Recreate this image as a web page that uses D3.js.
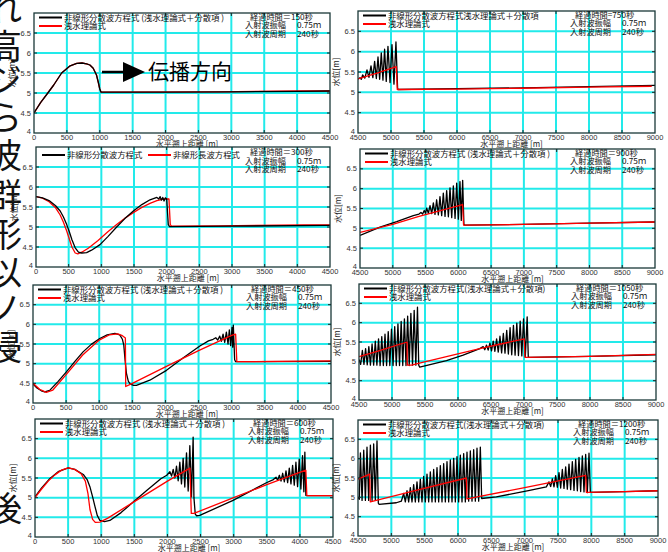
<!DOCTYPE html>
<html>
<head>
<meta charset="utf-8">
<script src="https://cdn.jsdelivr.net/npm/d3@7"></script>
<style>
  body { margin: 0; background: #fff; }
  svg { display: block; }
</style>
</head>
<body>
<div id="chart"></div>
<script>
// ---- data: [distance m, water level m] ----
const times = [150, 300, 450, 600, 750, 900, 1050, 1200];
const yTicks = [4, 4.5, 5, 5.5, 6, 6.5];
const xTicksLeft = [0, 500, 1000, 1500, 2000, 2500, 3000, 3500, 4000, 4500];
const xTicksRight = [4500, 5000, 5500, 6000, 6500, 7000, 7500, 8000, 8500, 9000];
const waveAmp = "0.75ｍ";
const wavePeriod = "240秒";

const black150 = [[0,4.5],[100,4.76],[210,5.0],[300,5.2],[420,5.5],[550,5.68],[650,5.74],[730,5.75],[800,5.73],[850,5.7],[900,5.62],[950,5.45],[980,5.25],[1000,5.1],[1020,5.02],[2000,5.02],[3000,5.03],[4000,5.04],[4500,5.05]];
const red150 = [[0,4.5],[100,4.76],[210,5.0],[300,5.2],[420,5.5],[550,5.68],[650,5.74],[730,5.75],[800,5.73],[850,5.7],[900,5.62],[950,5.45],[980,5.25],[1000,5.1],[1020,5.02],[2800,5.03],[4050,5.05],[4500,5.05]];

const black300 = [[0,5.76],[100,5.73],[200,5.66],[300,5.53],[370,5.4],[420,5.25],[470,5.06],[510,4.88],[550,4.68],[600,4.48],[650,4.37],[700,4.35],[775,4.36],[850,4.42],[980,4.56],[1100,4.76],[1235,5.0],[1360,5.21],[1490,5.4],[1620,5.56],[1745,5.68],[1850,5.74],[1880,5.7],[1900,5.76],[1920,5.67],[1940,5.74],[1960,5.65],[1980,5.73],[2000,5.7],[2025,5.06],[2045,5.01],[3000,5.02],[4500,5.04]];
const red300 = [[0,5.76],[100,5.72],[200,5.63],[300,5.48],[370,5.3],[420,5.12],[470,4.9],[510,4.7],[550,4.5],[600,4.35],[640,4.33],[700,4.37],[800,4.47],[950,4.66],[1100,4.88],[1235,5.06],[1360,5.22],[1490,5.36],[1620,5.49],[1745,5.59],[1850,5.66],[1950,5.7],[2035,5.7],[2055,5.06],[2075,5.02],[2800,5.03],[4100,5.05],[4500,5.05]];

const black450 = [[0,4.48],[60,4.38],[126,4.31],[177,4.28],[252,4.32],[380,4.55],[504,4.79],[630,5.05],[756,5.3],[880,5.49],[1008,5.64],[1120,5.73],[1236,5.77],[1310,5.73],[1350,5.62],[1371,5.47],[1390,5.1],[1411,4.75],[1440,4.55],[1470,4.48],[1520,4.45],[1562,4.45],[1764,4.58],[2016,4.83],[2270,5.15],[2520,5.45],[2650,5.58],[2720,5.62],[2760,5.66],[2790,5.6],[2820,5.7],[2845,5.57],[2870,5.75],[2895,5.54],[2920,5.8],[2945,5.5],[2965,5.86],[2985,5.46],[3005,5.92],[3015,5.42],[3025,5.98],[3045,5.1],[3060,5.05],[4500,5.06]];
const red450 = [[0,4.5],[100,4.35],[200,4.27],[300,4.33],[500,4.72],[750,5.22],[1000,5.6],[1150,5.73],[1280,5.76],[1340,5.72],[1395,5.65],[1400,4.42],[1500,4.5],[2000,4.92],[2500,5.33],[3000,5.72],[3060,5.75],[3078,5.05],[4500,5.07]];

const black600 = [[0,5.02],[100,5.25],[226,5.49],[350,5.66],[503,5.76],[600,5.72],[729,5.59],[790,5.45],[829,5.28],[870,5.02],[905,4.78],[940,4.55],[980,4.42],[1050,4.39],[1131,4.42],[1300,4.62],[1483,4.89],[1700,5.2],[1900,5.48],[1990,5.57],[2037,5.66],[2062,5.55],[2087,5.72],[2112,5.5],[2137,5.8],[2162,5.43],[2187,5.9],[2212,5.35],[2237,6.0],[2262,5.27],[2288,6.14],[2313,5.17],[2338,6.32],[2363,5.02],[2388,6.54],[2400,5.0],[2420,4.58],[2440,4.54],[2488,4.55],[2991,4.93],[3494,5.38],[3600,5.46],[3640,5.52],[3665,5.44],[3690,5.57],[3715,5.42],[3740,5.62],[3765,5.4],[3790,5.68],[3815,5.38],[3840,5.75],[3865,5.35],[3890,5.82],[3915,5.32],[3940,5.9],[3965,5.28],[3990,5.98],[4015,5.22],[4040,6.07],[4060,5.15],[4075,6.16],[4090,5.06],[4110,5.05],[4500,5.05]];
const red600 = [[0,5.0],[100,5.22],[200,5.42],[300,5.58],[400,5.7],[500,5.76],[600,5.72],[700,5.6],[760,5.42],[800,5.1],[830,4.7],[870,4.45],[910,4.37],[980,4.38],[1100,4.48],[1500,4.9],[2000,5.42],[2340,5.75],[2360,4.6],[2400,4.6],[3000,5.0],[3500,5.33],[4090,5.7],[4105,5.05],[4500,5.05]];

const black750 = [[4500,5.33],[4530,5.36],[4550,5.32],[4570,5.43],[4603,5.35],[4636,5.55],[4666,5.37],[4697,5.65],[4725,5.36],[4752,5.76],[4778,5.34],[4803,5.87],[4828,5.32],[4853,5.97],[4878,5.3],[4903,6.06],[4928,5.27],[4954,6.13],[4985,5.24],[5015,6.17],[5045,5.2],[5075,6.24],[5100,5.1],[5110,5.07],[6000,5.09],[7000,5.11],[8000,5.14],[9000,5.17]];
const red750 = [[4500,5.33],[4800,5.48],[5080,5.63],[5095,5.07],[6000,5.08],[7000,5.1],[8000,5.13],[8950,5.15]];

const black900 = [[4500,4.82],[4805,5.03],[5060,5.17],[5313,5.32],[5400,5.36],[5430,5.4],[5455,5.36],[5480,5.45],[5500,5.38],[5517,5.51],[5543,5.38],[5568,5.57],[5594,5.37],[5619,5.64],[5644,5.35],[5669,5.72],[5695,5.34],[5720,5.8],[5746,5.32],[5771,5.89],[5797,5.3],[5822,5.95],[5848,5.29],[5873,6.02],[5899,5.27],[5924,6.07],[5950,5.25],[5975,6.14],[6000,5.23],[6025,6.18],[6045,5.2],[6066,6.21],[6085,5.1],[6100,5.08],[7000,5.1],[8000,5.13],[9000,5.16]];
const red900 = [[4500,4.9],[5000,5.1],[5400,5.3],[6066,5.6],[6080,5.08],[7000,5.1],[8000,5.13],[9000,5.16]];

const black1050 = [[4500,5.05],[4525,4.92],[4551,5.28],[4575,4.92],[4600,5.33],[4625,4.91],[4649,5.38],[4673,4.9],[4698,5.45],[4722,4.9],[4747,5.52],[4771,4.9],[4796,5.58],[4820,4.89],[4845,5.64],[4869,4.89],[4894,5.7],[4918,4.89],[4943,5.77],[4967,4.89],[4992,5.83],[5016,4.89],[5041,5.9],[5065,4.89],[5090,5.97],[5114,4.89],[5139,6.03],[5163,4.89],[5188,6.1],[5212,4.89],[5237,6.17],[5261,4.89],[5286,6.24],[5311,4.9],[5336,6.32],[5361,4.9],[5386,6.4],[5405,4.9],[5420,4.85],[5825,5.02],[6078,5.16],[6330,5.33],[6381,5.38],[6406,5.3],[6432,5.42],[6457,5.29],[6483,5.47],[6508,5.27],[6534,5.52],[6559,5.26],[6585,5.58],[6610,5.24],[6636,5.65],[6661,5.22],[6687,5.72],[6712,5.21],[6738,5.8],[6763,5.19],[6789,5.87],[6814,5.17],[6840,5.93],[6865,5.16],[6891,5.99],[6916,5.15],[6942,6.04],[6967,5.14],[6993,6.1],[7020,5.12],[7048,6.15],[7065,5.12],[7075,5.1],[8000,5.13],[9000,5.17]];
const red1050 = [[4500,5.12],[4800,5.27],[5228,5.5],[5232,4.9],[5300,4.9],[5400,4.95],[5825,5.12],[6330,5.33],[7003,5.58],[7015,5.1],[8000,5.13],[9000,5.18]];

const black1200 = [[4500,5.0],[4520,4.95],[4536,6.15],[4561,4.92],[4586,6.22],[4611,4.92],[4635,6.3],[4660,4.92],[4686,6.35],[4711,4.92],[4735,6.38],[4760,4.92],[4785,6.46],[4805,4.85],[4815,4.82],[5075,4.86],[5150,4.9],[5185,5.1],[5210,4.88],[5235,5.17],[5260,4.88],[5285,5.25],[5310,4.88],[5335,5.33],[5360,4.88],[5385,5.4],[5410,4.88],[5435,5.47],[5460,4.88],[5485,5.54],[5510,4.88],[5535,5.6],[5560,4.88],[5585,5.66],[5610,4.88],[5635,5.72],[5660,4.88],[5685,5.77],[5710,4.88],[5735,5.82],[5760,4.88],[5785,5.87],[5810,4.88],[5835,5.92],[5860,4.88],[5885,5.97],[5910,4.88],[5935,6.01],[5960,4.88],[5985,6.05],[6010,4.88],[6035,6.09],[6060,4.88],[6085,6.13],[6110,4.88],[6135,6.17],[6160,4.9],[6185,6.2],[6210,4.9],[6235,6.23],[6260,4.9],[6285,6.27],[6310,4.9],[6335,6.3],[6355,4.97],[6575,5.01],[7075,5.18],[7325,5.27],[7365,5.4],[7390,5.28],[7415,5.48],[7440,5.27],[7465,5.56],[7490,5.26],[7515,5.64],[7540,5.24],[7565,5.72],[7590,5.23],[7615,5.79],[7640,5.21],[7665,5.86],[7690,5.2],[7715,5.92],[7740,5.18],[7765,5.98],[7790,5.17],[7815,6.03],[7840,5.15],[7865,6.07],[7890,5.14],[7915,6.11],[7940,5.12],[7965,6.14],[7985,5.13],[8500,5.15],[9000,5.17]];
const red1200 = [[4500,5.47],[4675,5.6],[4685,4.88],[5400,5.19],[6125,5.5],[6135,4.96],[7000,5.25],[7915,5.57],[7925,5.13],[8500,5.15],[9000,5.17]];

const legendFull = ["非線形分散波方程式 (浅水理論式＋分散項 )", "浅水理論式"];
const legendTight = ["非線形分散波方程式(浅水理論式＋分散項)", "浅水理論式"];
const legend750 = ["非線形分散波方程式浅水理論式＋分散項", "浅水理論式"];
const legend300 = ["非線形分散波方程式", "非線形長波方程式"];

// ---- layout ----
const W = 668, H = 552;
const jp = "'Noto Sans CJK JP', 'Noto Sans', sans-serif";
const num = "'Liberation Sans', Arial, sans-serif";

const panels = [
  {x0:34, x1:330, yb:133, yt:13,  dom:[0,4500],    ticks:xTicksLeft,  black:black150,  red:red150,  legend:legendFull,  t:times[0], eq:"＝", redTop:false},
  {x0:36, x1:330, yb:267, yt:147, dom:[0,4500],    ticks:xTicksLeft,  black:black300,  red:red300,  legend:legend300,   t:times[1], eq:"＝", redTop:false, oneRow:true},
  {x0:33, x1:331, yb:403, yt:285, dom:[0,4500],    ticks:xTicksLeft,  black:black450,  red:red450,  legend:legendFull,  t:times[2], eq:"＝", redTop:true},
  {x0:35, x1:333, yb:537, yt:419, dom:[0,4500],    ticks:xTicksLeft,  black:black600,  red:red600,  legend:legendFull,  t:times[3], eq:"＝", redTop:true},
  {x0:358, x1:655, yb:133, yt:11, dom:[4500,9000], ticks:xTicksRight, black:black750,  red:red750,  legend:legend750,   t:times[4], eq:"=",  redTop:true},
  {x0:360, x1:655, yb:268, yt:149, dom:[4500,9000], ticks:xTicksRight, black:black900,  red:red900,  legend:legendFull,  t:times[5], eq:"＝", redTop:true},
  {x0:359, x1:656, yb:400, yt:284, dom:[4500,9000], ticks:xTicksRight, black:black1050, red:red1050, legend:legendTight, t:times[6], eq:"＝", redTop:true},
  {x0:358, x1:658, yb:536, yt:420, dom:[4500,9000], ticks:xTicksRight, black:black1200, red:red1200, legend:legendTight, t:times[7], eq:"＝", redTop:true}
];

const svg = d3.select("#chart").append("svg")
    .attr("width", W)
    .attr("height", H);

svg.append("rect").attr("width", W).attr("height", H).attr("fill", "#fff");

// big vertical slide text, cut off at the left edge
const sideChars = ["れ","高","ジ","ら","波","群","形","以","ノ","浸","後"];
const sideY = [6, 44, 78, 115, 153, 193, 232, 270, 306, 345, 506];
sideChars.forEach((c, i) => {
  svg.append("text")
      .attr("x", 22).attr("y", sideY[i])
      .attr("text-anchor", "end")
      .attr("dominant-baseline", "central")
      .style("font-family", jp).style("font-size", "34px")
      .attr("fill", "#111")
      .text(c);
});

panels.forEach((p, i) => {
  const x = d3.scaleLinear().domain(p.dom).range([p.x0, p.x1]);
  const y = d3.scaleLinear().domain([4, 7]).range([p.yb, p.yt]);
  const g = svg.append("g");

  g.append("rect")
      .attr("x", p.x0).attr("y", p.yt)
      .attr("width", p.x1 - p.x0).attr("height", p.yb - p.yt)
      .attr("fill", "#fff");

  // grid
  g.selectAll(".gx").data(p.ticks.slice(1, -1)).enter().append("line")
      .attr("x1", d => x(d)).attr("x2", d => x(d))
      .attr("y1", p.yt).attr("y2", p.yb)
      .attr("stroke", "#22eaea").attr("stroke-width", 2);
  g.selectAll(".gy").data(yTicks.slice(1)).enter().append("line")
      .attr("x1", p.x0).attr("x2", p.x1)
      .attr("y1", d => y(d)).attr("y2", d => y(d))
      .attr("stroke", "#22eaea").attr("stroke-width", 2);

  // curves
  const clipId = "clip" + i;
  g.append("clipPath").attr("id", clipId).append("rect")
      .attr("x", p.x0).attr("y", p.yt)
      .attr("width", p.x1 - p.x0).attr("height", p.yb - p.yt);
  const line = d3.line().x(d => x(d[0])).y(d => y(d[1]));
  const series = p.redTop
      ? [[p.black, "#000"], [p.red, "#f00"]]
      : [[p.red, "#f00"], [p.black, "#000"]];
  series.forEach(([data, col]) => {
    g.append("path")
        .datum(data)
        .attr("clip-path", `url(#${clipId})`)
        .attr("fill", "none")
        .attr("stroke", col)
        .attr("stroke-width", 1.3)
        .attr("stroke-linejoin", "round")
        .attr("d", line);
  });

  // frame + inner ticks
  g.append("rect")
      .attr("x", p.x0).attr("y", p.yt)
      .attr("width", p.x1 - p.x0).attr("height", p.yb - p.yt)
      .attr("fill", "none").attr("stroke", "#1a3838").attr("stroke-width", 1.3);
  yTicks.slice(1).forEach(v => {
    g.append("line").attr("x1", p.x0).attr("x2", p.x0 + 3).attr("y1", y(v)).attr("y2", y(v)).attr("stroke", "#222");
    g.append("line").attr("x1", p.x1 - 3).attr("x2", p.x1).attr("y1", y(v)).attr("y2", y(v)).attr("stroke", "#222");
  });
  p.ticks.slice(1, -1).forEach(v => {
    g.append("line").attr("x1", x(v)).attr("x2", x(v)).attr("y1", p.yb - 3).attr("y2", p.yb).attr("stroke", "#222");
    g.append("line").attr("x1", x(v)).attr("x2", x(v)).attr("y1", p.yt).attr("y2", p.yt + 3).attr("stroke", "#222");
  });

  // tick labels (the bottom "4" sits a little higher, clear of the first x label)
  g.selectAll(".yl").data(yTicks).enter().append("text")
      .attr("x", p.x0 - 3).attr("y", d => y(d) + (d === 4 ? 0.5 : 2.5))
      .attr("text-anchor", "end")
      .style("font-family", num).style("font-size", "7.5px").attr("fill", "#333")
      .text(d => d);
  g.selectAll(".xl").data(p.ticks).enter().append("text")
      .attr("x", d => x(d)).attr("y", p.yb + 7)
      .attr("text-anchor", "middle")
      .style("font-family", num).style("font-size", "7.5px").attr("fill", "#333")
      .text(d => d);

  // axis titles
  g.append("text")
      .attr("x", (p.x0 + p.x1) / 2 + 5).attr("y", p.yb + 14)
      .attr("text-anchor", "middle")
      .style("font-family", jp).style("font-size", "8px").attr("fill", "#222")
      .text("水平遡上距離 [m]");
  g.append("text")
      .attr("transform", `translate(${p.x0 - 19},${(p.yt + p.yb) / 2}) rotate(-90)`)
      .attr("text-anchor", "middle")
      .style("font-family", jp).style("font-size", "8px").attr("fill", "#222")
      .text("水位[m]");

  // legend
  const lg = [[p.legend[0], "#000"], [p.legend[1], "#f00"]];
  lg.forEach(([txt, col], k) => {
    const lx = p.oneRow ? p.x0 + 6 + k * 106 : p.x0 + 5;
    const ly = p.oneRow ? p.yt + 8 : p.yt + 4.5 + k * 8.5;
    g.append("line")
        .attr("x1", lx).attr("x2", lx + 23)
        .attr("y1", ly).attr("y2", ly)
        .attr("stroke", col).attr("stroke-width", 2);
    g.append("text")
        .attr("x", lx + 25).attr("y", ly + 3)
        .style("font-family", jp).style("font-size", "8.4px").attr("fill", "#111")
        .text(txt);
  });

  // run info
  const ix = p.x1 - 80;
  const iy = p.yt + (p.oneRow ? 8 : 6.5);
  g.append("text").attr("x", ix).attr("y", iy)
      .style("font-family", jp).style("font-size", "8.2px").attr("fill", "#111")
      .text(`経過時間${p.eq}${p.t}秒`);
  [["入射波振幅", waveAmp], ["入射波周期", wavePeriod]].forEach(([a, b], k) => {
    g.append("text").attr("x", ix - 5).attr("y", iy + 8.5 * (k + 1))
        .style("font-family", jp).style("font-size", "8.2px").attr("fill", "#111")
        .text(a);
    g.append("text").attr("x", p.x1 - 33).attr("y", iy + 8.5 * (k + 1))
        .style("font-family", jp).style("font-size", "8.2px").attr("fill", "#111")
        .text(b);
  });
});

// propagation arrow in the first panel
const a = svg.append("g");
a.append("line").attr("x1", 102).attr("x2", 125).attr("y1", 72).attr("y2", 72)
    .attr("stroke", "#000").attr("stroke-width", 2.5);
a.append("path").attr("d", "M123,62L145,72L123,82Z").attr("fill", "#000");
a.append("text").attr("x", 148).attr("y", 79)
    .style("font-family", jp).style("font-size", "21px").attr("fill", "#000")
    .text("伝播方向");
</script>
</body>
</html>
